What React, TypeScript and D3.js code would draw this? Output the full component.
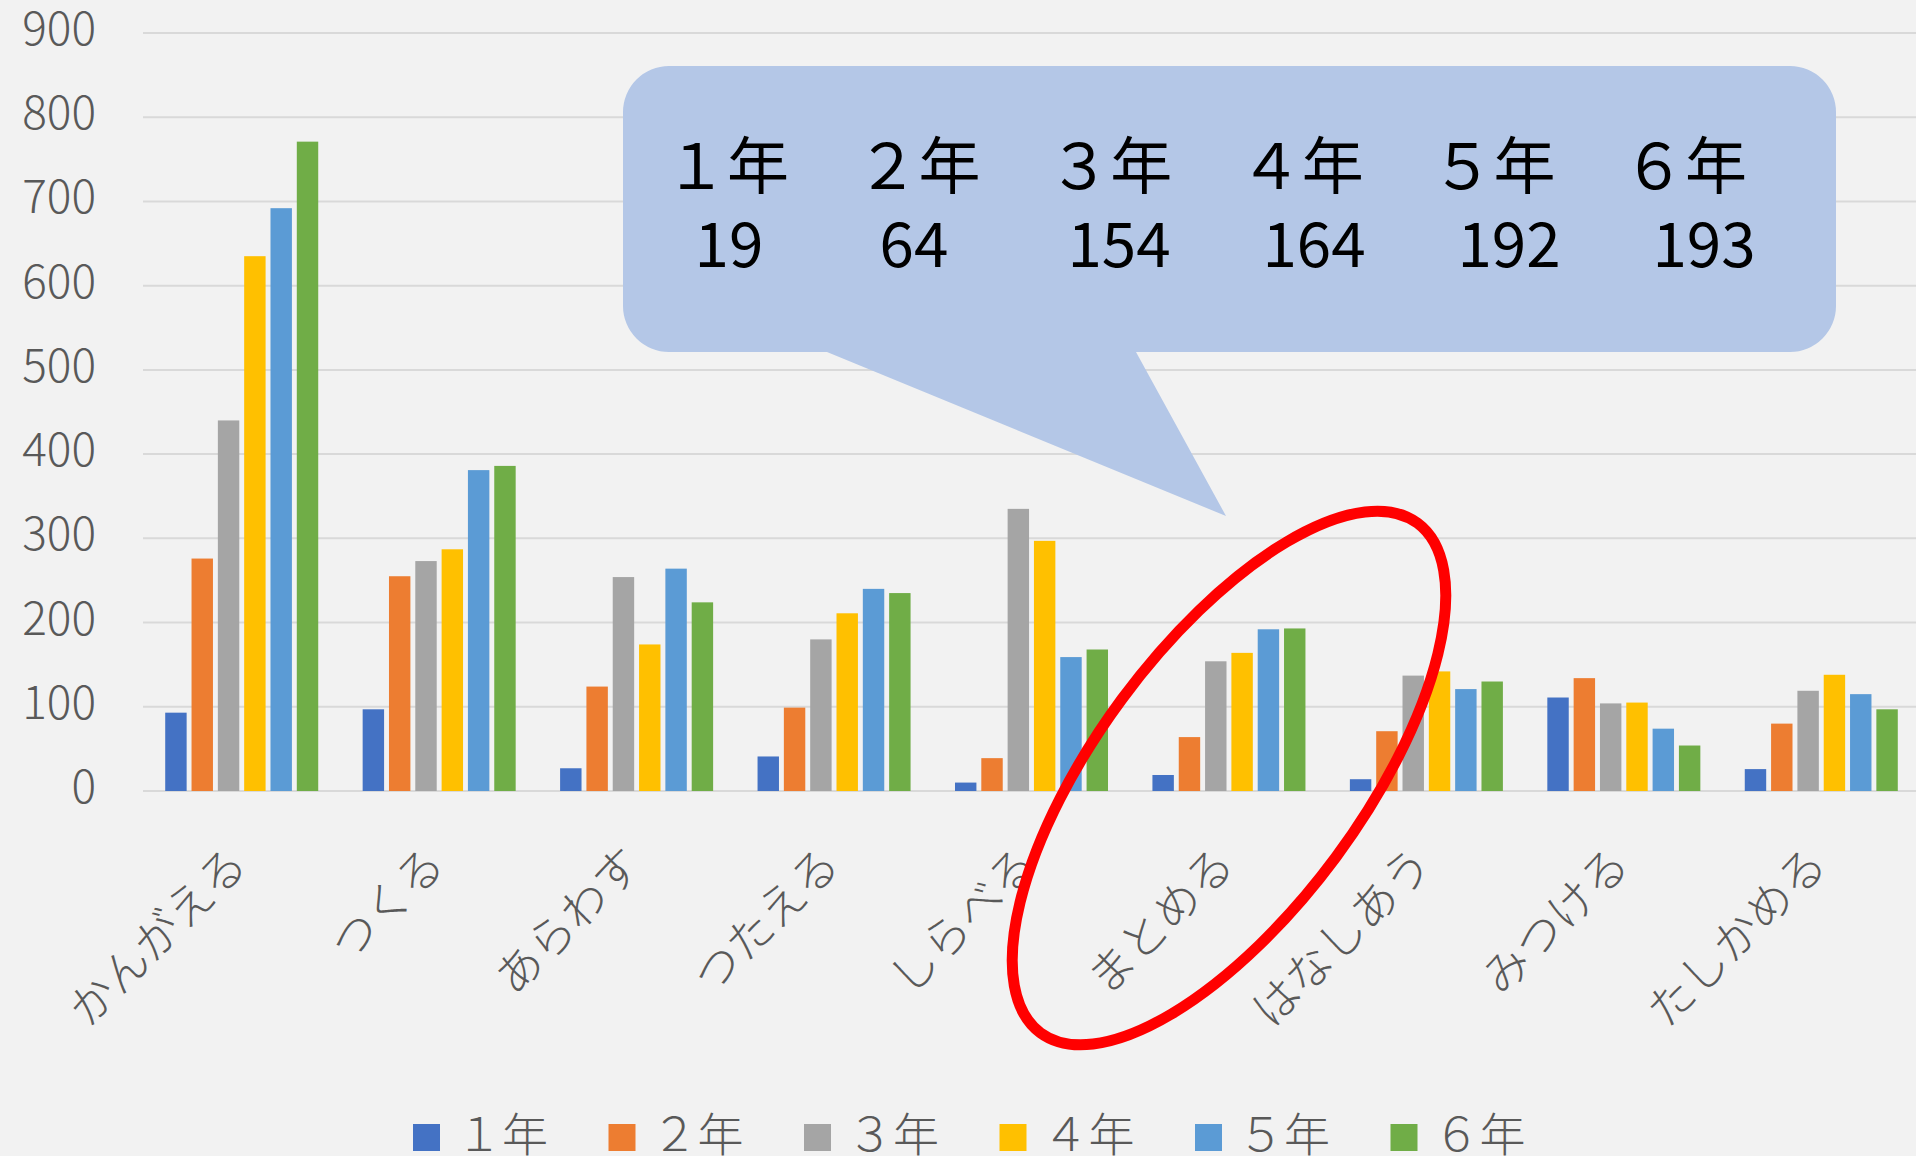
import { useEffect, useRef } from "react";
import * as d3 from "d3";

const categories = ["かんがえる", "つくる", "あらわす", "つたえる", "しらべる", "まとめる", "はなしあう", "みつける", "たしかめる"];
const seriesNames = ["１年", "２年", "３年", "４年", "５年", "６年"];
const grade1 = [93, 97, 27, 41, 10, 19, 14, 111, 26];
const grade2 = [276, 255, 124, 99, 39, 64, 71, 134, 80];
const grade3 = [440, 273, 254, 180, 335, 154, 137, 104, 119];
const grade4 = [635, 287, 174, 211, 297, 164, 142, 105, 138];
const grade5 = [692, 381, 264, 240, 159, 192, 121, 74, 115];
const grade6 = [771, 386, 224, 235, 168, 193, 130, 54, 97];
const colors = ["#4472C4", "#ED7D31", "#A5A5A5", "#FFC000", "#5B9BD5", "#70AD47"];
const yTicks = [0, 100, 200, 300, 400, 500, 600, 700, 800, 900];
const highlight = "まとめる";

const W = 1916;
const H = 1156;
const FONT = "'Noto Sans CJK JP', 'Noto Sans', sans-serif";

export default function App() {
    const ref = useRef(null);

    useEffect(() => {
        const svg = d3.select(ref.current);
        svg.selectAll("*").remove();

        const series = [grade1, grade2, grade3, grade4, grade5, grade6];

        const x0 = d3.scaleBand().domain(categories).range([143, 1920]).paddingInner(0.225).paddingOuter(0.1125);
        const x1 = d3.scaleBand().domain(seriesNames).range([0, x0.bandwidth()]).paddingInner(0.186);
        const y = d3.scaleLinear().domain([0, 900]).range([791, 33]);

        svg.append("rect").attr("width", W).attr("height", H).attr("fill", "#F2F2F2");

        // gridlines
        svg.append("g")
            .selectAll("line")
            .data(yTicks)
            .join("line")
            .attr("x1", 143)
            .attr("x2", W)
            .attr("y1", d => y(d))
            .attr("y2", d => y(d))
            .attr("stroke", "#D9D9D9")
            .attr("stroke-width", 2);

        // y tick labels
        svg.append("g")
            .selectAll("text")
            .data(yTicks)
            .join("text")
            .attr("x", 96)
            .attr("y", d => y(d) + 12)
            .attr("text-anchor", "end")
            .attr("font-family", FONT)
            .attr("font-weight", 300)
            .attr("font-size", 46)
            .attr("fill", "#595959")
            .text(d => d);

        // bars
        const groups = svg.append("g")
            .selectAll("g")
            .data(categories)
            .join("g")
            .attr("transform", d => `translate(${x0(d)},0)`);

        groups.selectAll("rect")
            .data((c, ci) => seriesNames.map((s, si) => ({ s, si, v: series[si][ci] })))
            .join("rect")
            .attr("x", d => x1(d.s))
            .attr("width", x1.bandwidth())
            .attr("y", d => y(d.v))
            .attr("height", d => y(0) - y(d.v))
            .attr("fill", d => colors[d.si]);

        // x labels
        svg.append("g")
            .selectAll("text")
            .data(categories)
            .join("text")
            .attr("transform", d => `translate(${x0(d) + x0.bandwidth() / 2 - 6},853) rotate(-45)`)
            .attr("text-anchor", "end")
            .attr("dominant-baseline", "central")
            .attr("font-family", FONT)
            .attr("font-weight", 300)
            .attr("font-size", 46)
            .attr("fill", "#595959")
            .text(d => d);

        // legend
        const legend = svg.append("g")
            .selectAll("g")
            .data(seriesNames)
            .join("g")
            .attr("transform", (d, i) => `translate(${413 + i * 195.5},0)`);
        legend.append("rect")
            .attr("y", 1124)
            .attr("width", 27)
            .attr("height", 27)
            .attr("fill", (d, i) => colors[i]);
        legend.append("text")
            .attr("x", 43)
            .attr("y", 1151)
            .attr("font-family", FONT)
            .attr("font-weight", 300)
            .attr("font-size", 46)
            .attr("fill", "#595959")
            .text(d => d);

        // callout
        const callout = svg.append("g");
        const bx0 = 623, bx1 = 1836, by0 = 66, by1 = 352, r = 46;
        const path = d3.path();
        path.moveTo(bx0 + r, by0);
        path.lineTo(bx1 - r, by0);
        path.arcTo(bx1, by0, bx1, by0 + r, r);
        path.lineTo(bx1, by1 - r);
        path.arcTo(bx1, by1, bx1 - r, by1, r);
        path.lineTo(1136, by1);
        path.lineTo(1226, 516);
        path.lineTo(827, by1);
        path.lineTo(bx0 + r, by1);
        path.arcTo(bx0, by1, bx0, by1 - r, r);
        path.lineTo(bx0, by0 + r);
        path.arcTo(bx0, by0, bx0 + r, by0, r);
        path.closePath();
        callout.append("path").attr("d", path.toString()).attr("fill", "#B4C7E7");

        const hi = categories.indexOf(highlight);
        const cx = d3.scaleLinear().domain([0, 5]).range([727, 1685]);
        const cv = d3.scaleLinear().domain([0, 5]).range([729, 1704]);
        callout.selectAll("text.name")
            .data(seriesNames)
            .join("text")
            .attr("class", "name")
            .attr("x", (d, i) => cx(i))
            .attr("y", 189)
            .attr("text-anchor", "middle")
            .attr("font-family", FONT)
            .attr("font-size", 62)
            .attr("fill", "#000")
            .text(d => d);
        callout.selectAll("text.val")
            .data(series.map(s => s[hi]))
            .join("text")
            .attr("class", "val")
            .attr("x", (d, i) => cv(i) - (i === 1 ? 10 : 0))
            .attr("y", 267)
            .attr("text-anchor", "middle")
            .attr("font-family", FONT)
            .attr("font-size", 62)
            .attr("fill", "#000")
            .text(d => d);

        // red ellipse
        svg.append("ellipse")
            .attr("transform", "translate(1229,778) rotate(-53.5)")
            .attr("rx", 317)
            .attr("ry", 133)
            .attr("fill", "none")
            .attr("stroke", "#FF0000")
            .attr("stroke-width", 11);
    }, []);

    return (
        <svg
            ref={ref}
            width={W}
            height={H}
            style={{ position: "absolute", left: 0, top: 0, display: "block" }}
        ></svg>
    );
}
